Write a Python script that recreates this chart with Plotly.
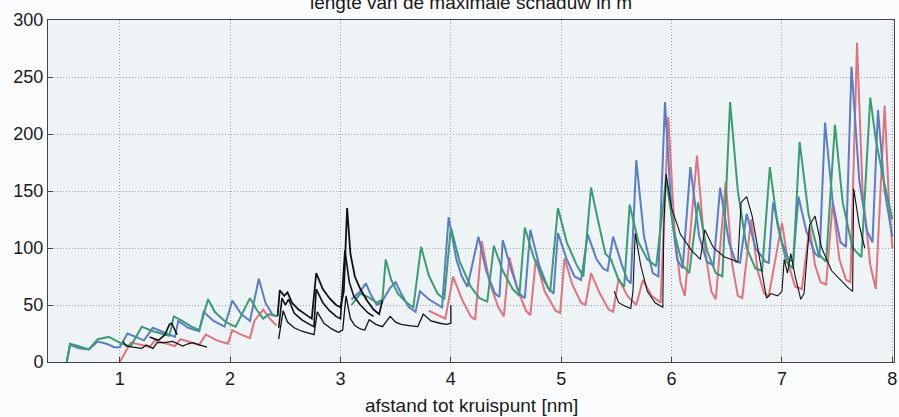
import plotly.graph_objects as go

# Lengte van de maximale schaduw [m] tegen afstand tot kruispunt [nm]
# Elke reeks: x (nm) en y (m); None = onderbreking in de lijn.

red_x = [1.0, 1.05, 1.1, 1.2, 1.27, 1.32, 1.42, 1.5, 1.55, 1.65, 1.72, 1.78, 1.88, 1.98,
         2.02, 2.1, 2.18, 2.22, 2.3, 2.36, 2.42, None,
         3.8, 3.9, 3.95, 4.02, 4.1, 4.18, 4.22, 4.28, 4.35, 4.43, 4.48, 4.53, 4.6, 4.68,
         4.72, 4.77, 4.85, 4.95, 4.99, 5.03, 5.1, 5.18, 5.22, 5.27, 5.35, 5.43, 5.47,
         5.52, 5.6, 5.68, 5.74, 5.82, 5.9, 5.97, 6.03, 6.08, 6.12, 6.23, 6.3, 6.36, 6.4,
         6.49, 6.55, 6.6, 6.64, 6.72, 6.78, 6.84, 6.88, 7.0, 7.06, 7.12, 7.18, 7.25, 7.3,
         7.35, 7.4, 7.46, 7.52, 7.58, 7.62, 7.68, 7.73, 7.8, 7.85, 7.93, 7.97, 8.0]
red_y = [0, 9, 17, 15, 13, 19, 16, 14, 20, 17, 15, 24, 19, 16,
         28, 24, 21, 36, 46, 38, 32, None,
         45, 40, 38, 75, 55, 40, 37, 106, 70, 48, 40, 92, 65, 45,
         41, 90, 62, 45, 43, 91, 68, 52, 50, 78, 60, 46, 44,
         73, 58, 50, 72, 58, 52, 215, 110, 70, 58, 181, 100, 62, 55,
         158, 85, 58, 56, 125, 80, 60, 58, 122, 85, 66, 64, 118, 85,
         70, 68, 140, 90, 72, 70, 280, 150, 85, 64, 225, 140, 100]

blue_x = [0.52, 0.55, 0.63, 0.72, 0.8, 0.88, 0.95, 1.0, 1.07, 1.15, 1.22, 1.3, 1.38,
          1.45, 1.5, 1.53, 1.62, 1.72, 1.76, 1.85, 1.95, 2.02, 2.1, 2.18, 2.26, 2.32,
          2.38, 2.42, None,
          3.1, 3.18, 3.23, 3.28, 3.33, 3.37, 3.45, 3.5, 3.55, 3.62, 3.68, 3.72, 3.8,
          3.88, 3.92, 3.98, 4.05, 4.1, 4.15, 4.25, 4.32, 4.4, 4.44, 4.47, 4.55, 4.62,
          4.67, 4.72, 4.8, 4.88, 4.93, 4.97, 5.05, 5.12, 5.18, 5.24, 5.32, 5.38, 5.42,
          5.47, 5.55, 5.6, 5.63, 5.68, 5.75, 5.83, 5.88, 5.94, 6.0, 6.05, 6.1, 6.17,
          6.25, 6.32, 6.38, 6.44, 6.52, 6.58, 6.62, 6.68, 6.76, 6.85, 6.88, 6.92, 7.0,
          7.06, 7.1, 7.15, 7.22, 7.3, 7.34, 7.39, 7.46, 7.53, 7.58, 7.63, 7.7, 7.77,
          7.82, 7.87, 7.93, 8.0]
blue_y = [0, 15, 12, 11, 18, 16, 13, 13, 25, 22, 19, 30, 27,
          24, 22, 36, 30, 27, 44, 36, 31, 54, 42, 36, 73, 52,
          42, 40, None,
          55, 62, 69, 58, 50, 52, 65, 70, 60, 48, 44, 62, 55,
          50, 48, 127, 90, 75, 66, 110, 80, 60, 57, 107, 80, 60,
          56, 116, 85, 65, 60, 113, 90, 75, 72, 112, 90, 82, 80,
          110, 85, 72, 69, 177, 110, 78, 75, 228, 130, 90, 82, 171,
          110, 88, 85, 153, 105, 88, 87, 130, 100, 88, 87, 140, 105,
          90, 88, 145, 115, 95, 92, 210, 140, 105, 101, 259, 160, 115,
          105, 221, 150, 110]

green_x = [0.52, 0.55, 0.62, 0.72, 0.8, 0.9, 1.0, 1.05, 1.1, 1.2, 1.3, 1.4, 1.45, 1.49,
           1.55, 1.65, 1.72, 1.8, 1.86, 1.95, 2.0, 2.05, 2.18, 2.24, 2.3, 2.35, 2.42, None,
           3.1, 3.18, 3.25, 3.33, 3.38, 3.41, 3.46, 3.52, 3.6, 3.66, 3.73, 3.8, 3.88,
           3.94, 4.0, 4.08, 4.18, 4.26, 4.33, 4.39, 4.47, 4.56, 4.62, 4.67, 4.75, 4.84,
           4.9, 4.97, 5.05, 5.14, 5.2, 5.27, 5.32, 5.37, 5.4, 5.45, 5.52, 5.57, 5.62,
           5.7, 5.78, 5.86, 5.95, 6.02, 6.1, 6.16, 6.24, 6.32, 6.4, 6.46, 6.53, 6.6,
           6.68, 6.76, 6.82, 6.89, 6.96, 7.04, 7.1, 7.16, 7.24, 7.33, 7.4, 7.48, 7.55,
           7.64, 7.72, 7.8, 7.85, 7.92, 8.0]
green_y = [0, 16, 14, 11, 20, 22, 17, 15, 14, 31, 27, 24, 23, 40,
           37, 31, 28, 55, 44, 36, 33, 31, 56, 46, 38, 42, 40, None,
           50, 60, 57, 52, 55, 90, 72, 60, 52, 48, 101, 76, 60,
           55, 118, 88, 66, 56, 53, 102, 80, 64, 58, 118, 92, 72,
           62, 135, 105, 85, 75, 153, 130, 108, 95, 90, 72, 66, 138,
           105, 90, 84, 160, 115, 85, 78, 140, 98, 78, 75, 228, 150,
           100, 82, 80, 171, 120, 88, 82, 193, 130, 95, 88, 208, 140,
           100, 92, 232, 195, 160, 125]

# zwarte reeksen
black_low_x = [1.03, 1.06, 1.12, 1.2, 1.24, 1.3, 1.34, 1.4, 1.48, 1.57, 1.62, 1.66, 1.72, 1.79, None,
               2.44, 2.48, 2.52, 2.58, 2.65, 2.72, 2.76, 2.79, 2.85, 2.92, 2.98, 3.02, 3.05,
               3.09, 3.13, 3.18, 3.22, 3.26, 3.32, 3.38, 3.45, 3.5, 3.55, 3.62, 3.7, 3.75,
               3.82, 3.9, 3.96, 4.0, 4.0]
black_low_y = [18, 14, 13, 12, 15, 12, 17, 17, 18, 14, 16, 17, 15, 13, None,
               20, 45, 35, 30, 27, 25, 24, 44, 34, 29, 26, 28, 58,
               38, 32, 29, 28, 37, 33, 31, 40, 35, 33, 32, 31, 42,
               36, 34, 33, 34, 50]

black_mid_x = [1.27, 1.35, 1.41, 1.45, 1.47, 1.52, None,
               2.44, 2.47, 2.5, 2.53, 2.58, 2.65, 2.72, 2.76, 2.78, 2.84, 2.9, 2.96, 3.0,
               3.04, 3.08, 3.12, 3.18, 3.25, 3.3]
black_mid_y = [22, 19, 24, 33, 34, 24, None,
               30, 56, 50, 55, 43, 37, 33, 31, 64, 52, 45, 40, 38,
               98, 70, 58, 50, 43, 40]

black_top_x = [2.43, 2.45, 2.49, 2.52, 2.56, 2.62, 2.68, 2.74, 2.78, 2.84, 2.9, 2.96, 3.0,
               3.03, 3.06, 3.09, 3.13, 3.18, 3.24, 3.3, 3.35, 3.38]
black_top_y = [40, 63, 58, 61, 52, 46, 42, 38, 78, 64, 56, 50, 48,
               62, 135, 95, 75, 64, 54, 46, 42, 54]

black_right_x = [5.48, 5.52, 5.58, 5.63, 5.65, 5.67, 5.72, 5.78, 5.85, 5.92, 5.93, 5.95,
                 6.0, 6.08, 6.18, 6.26, 6.3, 6.38, 6.48, 6.6, 6.63, 6.68, 6.73, 6.8, 6.86,
                 6.9, 6.96, 7.0, 7.02, 7.05, 7.08, 7.12, 7.17, 7.2, 7.25, 7.3, 7.36, 7.45,
                 7.55, 7.6, 7.64, 7.65, 7.7, 7.75]
black_right_y = [62, 52, 49, 47, 62, 113, 85, 62, 52, 48, 120, 165,
                 135, 112, 98, 90, 116, 100, 92, 88, 140, 145, 128, 90, 56,
                 60, 58, 62, 90, 78, 95, 75, 55, 60, 120, 128, 100, 80,
                 70, 65, 62, 152, 120, 100]

x_ticks = [1, 2, 3, 4, 5, 6, 7, 8]
y_ticks = [0, 50, 100, 150, 200, 250, 300]

RED = "#e0737f"
BLUE = "#5b7cc6"
GREEN = "#3b9c74"
BLACK = "#111111"

fig = go.Figure()
for xs, ys, col, w in [
    (red_x, red_y, RED, 2.0),
    (blue_x, blue_y, BLUE, 2.0),
    (green_x, green_y, GREEN, 2.0),
    (black_low_x, black_low_y, BLACK, 1.3),
    (black_mid_x, black_mid_y, BLACK, 1.6),
    (black_top_x, black_top_y, BLACK, 1.8),
    (black_right_x, black_right_y, BLACK, 1.1),
]:
    fig.add_trace(go.Scatter(x=xs, y=ys, mode="lines", connectgaps=False,
                             line=dict(color=col, width=w), showlegend=False,
                             hoverinfo="skip"))

font = dict(family="Liberation Sans, Arial, sans-serif", size=18, color="#1a1a1a")

fig.update_xaxes(range=[0.35, 8.015], tickvals=x_ticks, ticks="inside", ticklen=5,
                 tickcolor="#444", showline=True, linecolor="#444", linewidth=1,
                 mirror=True, showgrid=True, gridcolor="#9aa6b1", griddash="1px,2px",
                 gridwidth=1, zeroline=False, tickfont=font,
                 ticklabeloverflow="allow")
fig.update_yaxes(range=[0, 300], tickvals=y_ticks, ticks="inside", ticklen=5,
                 tickcolor="#444", showline=True, linecolor="#444", linewidth=1,
                 mirror=True, showgrid=True, gridcolor="#9aa6b1", griddash="1px,2px",
                 gridwidth=1, zeroline=False, tickfont=font)

fig.add_annotation(text="lengte van de maximale schaduw in m", xref="paper", yref="paper",
                   x=0.5, y=1, yanchor="middle", yshift=18, showarrow=False,
                   font=dict(family=font["family"], size=19, color="#1a1a1a"))
fig.add_annotation(text="afstand tot kruispunt [nm]", xref="paper", yref="paper",
                   x=0.5, y=0, yanchor="middle", yshift=-43, showarrow=False,
                   font=dict(family=font["family"], size=19, color="#1a1a1a"))

fig.update_layout(width=899, height=417, margin=dict(l=48, r=2, t=20, b=55),
                  plot_bgcolor="#eef3f6", paper_bgcolor="#fbfcfd")

fig.write_html("out.html")
